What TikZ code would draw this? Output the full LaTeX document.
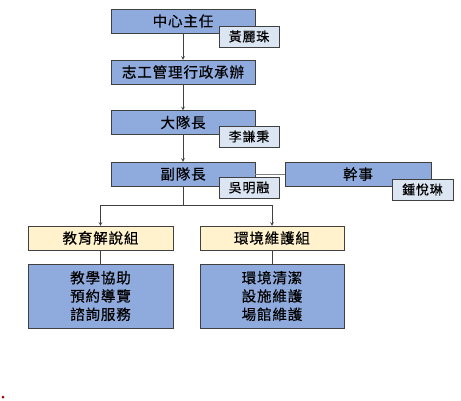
\documentclass[tikz,border=0pt]{standalone}
\usepackage{fontspec}
\setmainfont{Noto Sans CJK TC}[LetterSpace=6, FakeBold=0.4]
\definecolor{boxblue}{HTML}{8FAADC}
\definecolor{tagblue}{HTML}{DCE6F2}
\definecolor{grpyellow}{HTML}{FFF2CC}
\definecolor{edgegray}{HTML}{404040}
\tikzset{
  rolebox/.style={draw=edgegray, fill=boxblue, minimum width=144pt, minimum height=24pt,
    inner sep=0pt, font=\fontsize{14.5}{16}\selectfont},
  nametag/.style={draw=edgegray, fill=tagblue, minimum width=60pt, minimum height=21pt,
    inner sep=0pt, font=\fontsize{13}{14}\selectfont},
  groupbox/.style={draw=edgegray, fill=grpyellow, minimum width=145pt, minimum height=24pt,
    inner sep=0pt, font=\fontsize{14.5}{16}\selectfont},
  taskbox/.style={draw=edgegray, fill=boxblue, minimum width=145pt, minimum height=64pt,
    inner sep=0pt, align=center, font=\fontsize{14.5}{18.3}\selectfont},
  link/.style={draw=edgegray, semithick}
}
\begin{document}
\begin{tikzpicture}[x=1pt, y=-1pt, >=stealth]
    \useasboundingbox (0,0) rectangle (461,400);

    % chain of command
    \node[rolebox] (head) at (183,21) {中心主任};
    \node[rolebox] (admin) at (183,72) {志工管理行政承辦};
    \node[rolebox] (leader) at (183,122.5) {大隊長};
    \node[rolebox] (deputy) at (183,174) {副隊長};
    \node[rolebox, minimum width=146pt] (clerk) at (358,174) {幹事};

    % names
    \node[nametag] (headname) at (249,36.5) {黃麗珠};
    \node[nametag] (leadername) at (249,136.5) {李謙秉};
    \node[nametag] (deputyname) at (249,187.5) {吳明融};
    \node[nametag, minimum width=61pt] (clerkname) at (422.5,189.5) {鍾悅琳};

    % groups
    \node[groupbox] (edu) at (100.5,238) {教育解說組};
    \node[groupbox, minimum width=144pt] (env) at (272,238) {環境維護組};
    \node[taskbox] (edutasks) at (100.5,296) {教學協助\\預約導覽\\諮詢服務};
    \node[taskbox, minimum width=144pt] (envtasks) at (272,296) {環境清潔\\設施維護\\場館維護};

    \coordinate (split) at (183,205);

    \draw[link, ->] (head) -- (admin);
    \draw[link, ->] (admin) -- (leader);
    \draw[link, ->] (leader) -- (deputy);
    \draw[link, draw=gray] (deputy) -- (clerk);
    \draw[link] (deputy) -- (split);
    \draw[link, ->] (split) -| (edu);
    \draw[link, ->] (split) -| (env);
    \draw[link] (edu) -- (edutasks);
    \draw[link] (env) -- (envtasks);

    \fill[red!60!black] (3,397) circle (1.5);
\end{tikzpicture}
\end{document}
